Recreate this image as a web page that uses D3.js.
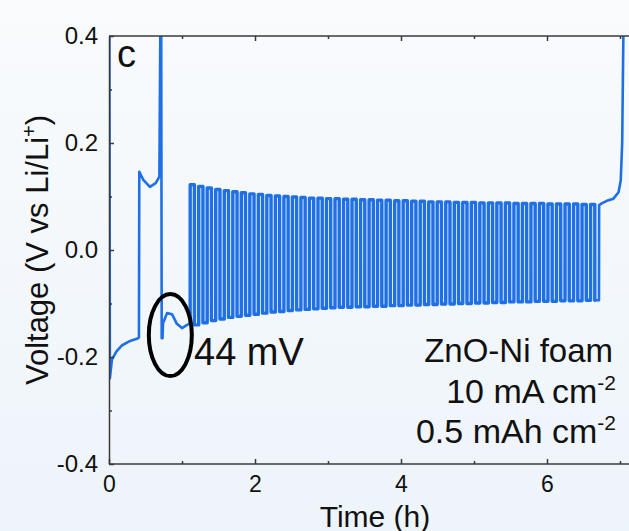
<!DOCTYPE html>
<html>
<head>
<meta charset="utf-8">
<script src="https://cdn.jsdelivr.net/npm/d3@7"></script>
<style>
  html, body { margin: 0; padding: 0; background: #f4f8fb; }
  svg { display: block; }
  text { font-family: "Liberation Sans", Arial, sans-serif; fill: #111; }
</style>
</head>
<body>
<svg id="chart" width="629" height="531"></svg>
<script>
// ---------------- data ----------------
// formation part before regular cycling: [time (h), voltage (V)]
const preTimes    = [0.005, 0.012, 0.04, 0.10, 0.18, 0.29, 0.40, 0.410, 0.415, 0.47, 0.56, 0.64, 0.69, 0.705, 0.715, 0.722, 0.733, 0.740, 0.795, 0.863, 0.93, 1.00, 1.07, 1.112];
const preVolts    = [0.45, -0.240, -0.205, -0.190, -0.178, -0.170, -0.165, -0.163, 0.146, 0.131, 0.118, 0.125, 0.137, 0.45, 0.45, -0.165, -0.165, -0.137, -0.118, -0.120, -0.138, -0.146, -0.140, -0.137];

// regular plating/stripping cycles: time of the upward step, stripping peak, plating trough
const cycleTimes  = [1.112, 1.229, 1.345, 1.462, 1.579, 1.696, 1.812, 1.929, 2.046, 2.162, 2.279, 2.396, 2.512, 2.629, 2.746, 2.863, 2.979, 3.096, 3.213, 3.329, 3.446, 3.563, 3.679, 3.796, 3.913, 4.030, 4.146, 4.263, 4.380, 4.496, 4.613, 4.730, 4.846, 4.963, 5.080, 5.197, 5.313, 5.430, 5.547, 5.663, 5.780, 5.897, 6.013, 6.130, 6.247, 6.364, 6.480, 6.597];
const cyclePeaks  = [0.122, 0.119, 0.116, 0.113, 0.111, 0.109, 0.107, 0.105, 0.104, 0.102, 0.101, 0.100, 0.099, 0.098, 0.097, 0.097, 0.096, 0.096, 0.095, 0.095, 0.094, 0.094, 0.093, 0.093, 0.092, 0.092, 0.091, 0.091, 0.090, 0.090, 0.090, 0.089, 0.089, 0.089, 0.088, 0.088, 0.088, 0.088, 0.087, 0.087, 0.087, 0.087, 0.086, 0.086, 0.086, 0.086, 0.085, 0.085];
const cycleDownTimes = [1.170, 1.287, 1.403, 1.520, 1.637, 1.754, 1.870, 1.987, 2.104, 2.220, 2.337, 2.454, 2.570, 2.687, 2.804, 2.921, 3.037, 3.154, 3.271, 3.387, 3.504, 3.621, 3.737, 3.854, 3.971, 4.088, 4.204, 4.321, 4.438, 4.554, 4.671, 4.788, 4.904, 5.021, 5.138, 5.255, 5.371, 5.488, 5.605, 5.721, 5.838, 5.955, 6.071, 6.188, 6.305, 6.422, 6.538, 6.655];
const cycleTroughs = [-0.140, -0.136, -0.132, -0.129, -0.126, -0.124, -0.122, -0.120, -0.118, -0.116, -0.115, -0.113, -0.112, -0.111, -0.110, -0.109, -0.108, -0.107, -0.107, -0.106, -0.106, -0.105, -0.105, -0.104, -0.104, -0.103, -0.103, -0.102, -0.102, -0.101, -0.101, -0.100, -0.100, -0.099, -0.099, -0.098, -0.098, -0.097, -0.097, -0.097, -0.096, -0.096, -0.096, -0.095, -0.095, -0.095, -0.094, -0.094];

// final stripping to cut-off
const postTimes   = [6.712, 6.714, 6.75, 6.82, 6.91, 6.98, 7.01, 7.03, 7.05];
const postVolts   = [-0.094, 0.084, 0.087, 0.092, 0.096, 0.108, 0.130, 0.200, 0.45];

const xMajorTicks = [0, 2, 4, 6];
const xMinorTicks = [1, 3, 5, 7];
const yMajorTicks = [-0.4, -0.2, 0.0, 0.2, 0.4];
const yMinorTicks = [-0.3, -0.1, 0.1, 0.3];

// ---------------- chart ----------------
const svg = d3.select("#chart");
const W = 629, H = 531;
const mLeft = 109, mTop = 36, mBottom = 464;
const x = d3.scaleLinear().domain([0, 7]).range([mLeft, 620]);
const y = d3.scaleLinear().domain([-0.4, 0.4]).range([mBottom, mTop]);
const xEnd = x(7.4);

// background
const defs = svg.append("defs");
const grad = defs.append("linearGradient").attr("id", "bg").attr("x1", 0).attr("y1", 0).attr("x2", 0).attr("y2", 1);
grad.append("stop").attr("offset", "0%").attr("stop-color", "#f9fbfd");
grad.append("stop").attr("offset", "100%").attr("stop-color", "#edf4fa");
svg.append("rect").attr("width", W).attr("height", H).attr("fill", "url(#bg)");

defs.append("clipPath").attr("id", "clip")
  .append("rect").attr("x", mLeft).attr("y", mTop).attr("width", xEnd - mLeft).attr("height", mBottom - mTop);

// build path points from the arrays
const prePts = preTimes.map((t, i) => [t, preVolts[i]]);
const cycPts = [prePts[prePts.length - 1]];
cycleTimes.forEach((t, i) => {
  const prevV = cycPts[cycPts.length - 1][1];
  cycPts.push([t, prevV]);
  cycPts.push([t, cyclePeaks[i]]);
  cycPts.push([cycleDownTimes[i], cyclePeaks[i]]);
  cycPts.push([cycleDownTimes[i], cycleTroughs[i]]);
});
const postPts = [cycPts[cycPts.length - 1]].concat(postTimes.map((t, i) => [t, postVolts[i]]));

const line = d3.line().x(d => x(d[0])).y(d => y(d[1]));
const plot = svg.append("g").attr("clip-path", "url(#clip)");
[[prePts, 2.6], [cycPts, 3.4], [postPts, 2.6]].forEach(([data, w]) => {
  plot.append("path")
    .datum(data)
    .attr("d", line)
    .attr("fill", "none")
    .attr("stroke", "#1f6fe5")
    .attr("stroke-width", w)
    .attr("stroke-linejoin", "round")
    .attr("stroke-linecap", "round");
});

// axes
const axisColor = "#3a3a3a";
const hyphenFmt = d => d3.format(".1f")(d).replace("\u2212", "-");
function styleAxis(g) {
  g.selectAll("path, line").attr("stroke", axisColor).attr("stroke-width", 1.5);
  g.selectAll("text").attr("fill", "#111").style("font-family", '"Liberation Sans", Arial, sans-serif');
}

// bottom
const gx = svg.append("g").attr("transform", `translate(0,${mBottom})`);
gx.call(d3.axisBottom(x).tickValues(xMajorTicks).tickFormat(d3.format("d")).tickSizeInner(-5).tickSizeOuter(0).tickPadding(12));
gx.select(".domain").attr("d", `M${mLeft},0H${xEnd}`);
gx.selectAll("text").attr("font-size", 23);
styleAxis(gx);
const gxm = svg.append("g").attr("transform", `translate(0,${mBottom})`);
gxm.call(d3.axisBottom(x).tickValues(xMinorTicks).tickFormat("").tickSizeInner(-3).tickSizeOuter(0));
gxm.select(".domain").remove();
styleAxis(gxm);

// top
const gt = svg.append("g").attr("transform", `translate(0,${mTop})`);
gt.call(d3.axisTop(x).tickValues(xMajorTicks.slice(1)).tickFormat("").tickSizeInner(-5).tickSizeOuter(0));
gt.select(".domain").attr("d", `M${mLeft},0H${xEnd}`);
styleAxis(gt);
const gtm = svg.append("g").attr("transform", `translate(0,${mTop})`);
gtm.call(d3.axisTop(x).tickValues(xMinorTicks).tickFormat("").tickSizeInner(-3).tickSizeOuter(0));
gtm.select(".domain").remove();
styleAxis(gtm);

// left
const gy = svg.append("g").attr("transform", `translate(${mLeft},0)`);
gy.call(d3.axisLeft(y).tickValues(yMajorTicks).tickFormat(hyphenFmt).tickSizeInner(-5).tickSizeOuter(0).tickPadding(11));
gy.selectAll("text").attr("font-size", 24);
styleAxis(gy);
const gym = svg.append("g").attr("transform", `translate(${mLeft},0)`);
gym.call(d3.axisLeft(y).tickValues(yMinorTicks).tickFormat("").tickSizeInner(-3).tickSizeOuter(0));
gym.select(".domain").remove();
styleAxis(gym);

// axis titles
svg.append("text")
  .attr("x", 375).attr("y", 527)
  .attr("text-anchor", "middle").attr("font-size", 30)
  .text("Time (h)");

const yt = svg.append("text")
  .attr("transform", "translate(48,250) rotate(-90)")
  .attr("text-anchor", "middle").attr("font-size", 31);
yt.append("tspan").text("Voltage (V vs Li/Li");
yt.append("tspan").attr("font-size", 20).attr("dy", -12).text("+");
yt.append("tspan").attr("dy", 12).text(")");

// panel label
svg.append("text").attr("x", 117).attr("y", 67).attr("font-size", 38).text("c");

// annotation
svg.append("ellipse")
  .attr("cx", x(0.84)).attr("cy", y(-0.159))
  .attr("rx", 21.5).attr("ry", 41)
  .attr("fill", "none").attr("stroke", "#000").attr("stroke-width", 4);
svg.append("text").attr("x", 194).attr("y", 365).attr("font-size", 38).text("44 mV");

// condition labels
const rx = 613;
svg.append("text").attr("x", rx).attr("y", 362).attr("text-anchor", "end").attr("font-size", 33).text("ZnO-Ni foam");
const l2 = svg.append("text").attr("x", rx + 3).attr("y", 403).attr("text-anchor", "end").attr("font-size", 34);
l2.append("tspan").text("10 mA cm");
l2.append("tspan").attr("font-size", 21).attr("dy", -13).text("-2");
const l3 = svg.append("text").attr("x", rx + 3).attr("y", 443).attr("text-anchor", "end").attr("font-size", 34);
l3.append("tspan").text("0.5 mAh cm");
l3.append("tspan").attr("font-size", 21).attr("dy", -13).text("-2");
</script>
</body>
</html>
